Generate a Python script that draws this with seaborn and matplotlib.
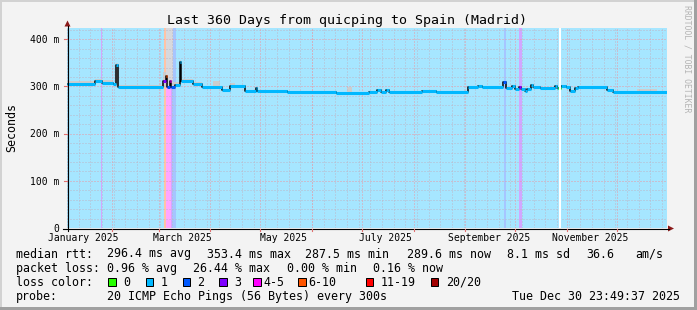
import matplotlib
matplotlib.use("Agg")
import numpy as np
import pandas as pd
import seaborn as sns
import matplotlib.pyplot as plt
import matplotlib.dates as mdates
import matplotlib.transforms as mtrans
from matplotlib.patches import Polygon, Rectangle
from matplotlib.lines import Line2D
from matplotlib.colors import to_rgb

plt.rcParams["font.family"] = ["DejaVu Sans Mono"]

# ---------------- data ----------------
W, H = 697, 310
END = pd.Timestamp("2025-12-30 23:49:37")
SPAN_DAYS = 360
START = END - pd.Timedelta(days=SPAN_DAYS)
Y_TOP = 424  # ms

title = "Last 360 Days from quicping to Spain (Madrid)"

# median rtt (ms) as step segments: start day (from START), value, loss class
seg_day = [0, 17, 21, 27.6, 29.4, 30.6, 57.6, 59.4, 60, 61.8,
           62.4, 64.8, 67.8, 68.4, 75.6, 81, 93, 97.8, 106.8, 113.4,
           114, 132, 161.4, 181.2, 186, 188.4, 191.4, 193.2, 213, 221.4,
           240.6, 246.6, 249, 261.6, 263.4, 267, 268.8, 271.2, 272.4, 274.8,
           276, 278.4, 279.6, 283.8, 292.8, 294, 294.6, 296.4, 299.4, 301.8,
           304.8, 306.6, 324, 327.6]
seg_ms = [305.5, 311, 307, 305, 345, 299, 311, 323, 299, 311,
          299, 303, 352, 312, 306, 299, 292, 301, 290, 296,
          291, 288, 286, 289, 292, 289, 292, 289, 291, 289,
          299, 301, 299, 309, 297, 302, 295, 299, 294, 290,
          295, 304, 299, 297, 301, 297, 297, 300, 299, 290,
          296, 299, 292, 288]
seg_loss = [1, 1, 1, 1, 1, 1, 3, 5, 2, 4,
            2, 1, 1, 1, 1, 1, 1, 1, 1, 1,
            1, 1, 1, 1, 1, 1, 1, 1, 1, 1,
            1, 1, 1, 2, 1, 1, 1, 3, 1, 1,
            1, 1, 1, 1, 1, 1, 0, 1, 1, 1,
            1, 1, 1, 1]

# loss background bands (days) and their loss class
band_start = [20.4, 58.2, 59.4, 62.4, 63.0, 262.2, 271.2]
band_end = [21.0, 59.4, 62.4, 63.0, 65.4, 263.4, 272.7]
band_loss = [3, 5, 4, 3, 2, 2, 3]
gap_start, gap_end = 295.2, 296.4   # no data

# smoke (ping spread) patches
smoke_start = [0, 17, 21, 29.4, 30.6, 57.6, 59.4, 63.6, 67.8, 68.4, 75.6, 81, 87.6, 97.8, 168, 342]
smoke_end = [17, 21, 27.6, 30.6, 57.6, 59.4, 63.6, 67.8, 68.4, 75.6, 81, 93, 91.8, 101, 171, 354]
smoke_lo = [304, 307, 304, 300, 298, 299, 299, 298, 305, 309, 304, 297, 298, 298, 285, 287]
smoke_hi = [311, 316, 313, 350, 304, 330, 424, 309, 356, 316, 310, 302, 311, 307, 299, 294]

loss_labels = ["0", "1", "2", "3", "4-5", "6-10", "11-19", "20/20"]
loss_colors = ["#26ff00", "#00b8ff", "#0059ff", "#7e00ff", "#ff00ff", "#ff5500", "#ff0000", "#a10000"]

ytick_ms = [0, 100, 200, 300, 400]
ytick_labels = ["0", "100 m", "200 m", "300 m", "400 m"]
xtick_dates = ["2025-01-15", "2025-03-15", "2025-05-15", "2025-07-15", "2025-09-15", "2025-11-15"]
xtick_labels = ["January 2025", "March 2025", "May 2025", "July 2025", "September 2025", "November 2025"]

stats_rtt = [("median rtt:", 16), ("296.4 ms avg", 107.3), ("353.4 ms max", 207.3),
             ("287.5 ms min", 305), ("289.6 ms now", 407.3), ("8.1 ms sd", 507.3),
             ("36.6", 586), ("am/s", 635.7)]
stats_loss = [("packet loss:", 16), ("0.96 % avg", 107.3), ("26.44 % max", 192.7),
              ("0.00 % min", 286.7), ("0.16 % now", 372.7)]
swatch_x = [108.3, 145.7, 182.7, 219.3, 253.3, 298.3, 365.7, 430.7]
swatch_text_x = [123.3, 160.5, 197.3, 234.3, 263.3, 308.3, 380.7, 445.7]
probe_text = "20 ICMP Echo Pings (56 Bytes) every 300s"
date_text = "Tue Dec 30 23:49:37 2025"

# ---------------- helpers ----------------
def fx(x):
    return x / W

def fy(y):
    return 1 - y / H

def light(c, a=0.35):
    return tuple(1 - a * (1 - v) for v in to_rgb(c))

# ---------------- figure ----------------
fig = plt.figure(figsize=(W / 100, H / 100), dpi=100, facecolor="#F3F3F3")
ax = fig.add_axes([fx(67), fy(228), 600 / W, 200 / H])
ax.set_facecolor("white")
for s in ax.spines.values():
    s.set_visible(False)

x0 = mdates.date2num(START.to_pydatetime())
days = np.asarray(seg_day, dtype=float)
ends = np.append(days[1:], SPAN_DAYS)

# loss background
ax.axvspan(x0, x0 + SPAN_DAYS, color=light(loss_colors[1]), lw=0, zorder=0.5)
for s, e, k in zip(band_start, band_end, band_loss):
    ax.axvspan(x0 + s, x0 + e, color=light(loss_colors[k]), lw=0, zorder=0.6)

# smoke
for s, e, lo, hi in zip(smoke_start, smoke_end, smoke_lo, smoke_hi):
    col = "#d8d8dc" if hi > 400 else "#cdcdcd"
    ax.fill_between([x0 + s, x0 + e], lo, hi, color=col, lw=0, zorder=1)

# grid
sundays = pd.date_range(START.normalize(), END, freq="W-SUN")
months = pd.date_range(START.normalize(), END, freq="MS")
sun_x = [mdates.date2num(d.to_pydatetime()) for d in sundays]
mon_x = [mdates.date2num(d.to_pydatetime()) for d in months]
dash = (0, (1, 2))
minor_col = "#bcb8c8"
major_col = "#eb98a2"
ax.vlines(sun_x, 0, Y_TOP, colors=minor_col, lw=0.72, linestyles=dash, zorder=2)
minor_y = [v for v in range(20, Y_TOP, 20) if v % 100]
ax.hlines(minor_y, x0, x0 + SPAN_DAYS, colors=minor_col, lw=0.72, linestyles=dash, zorder=2)
ax.vlines(mon_x, 0, Y_TOP, colors=major_col, lw=0.72, linestyles=dash, zorder=2.1)
ax.hlines([100, 200, 300, 400], x0, x0 + SPAN_DAYS, colors=major_col, lw=0.72,
          linestyles=dash, zorder=2.1)

# median line
df = pd.DataFrame({"t": np.append(x0 + days, x0 + SPAN_DAYS),
                   "ms": np.append(seg_ms, seg_ms[-1])})
sns.lineplot(data=df, x="t", y="ms", drawstyle="steps-post", color="black", lw=1.1,
             ax=ax, estimator=None, sort=False, legend=False, zorder=3)
ax.hlines(seg_ms, x0 + days, x0 + ends, colors=[loss_colors[k] for k in seg_loss],
          lw=2.2, zorder=4)

# no-data gap
ax.axvspan(x0 + gap_start, x0 + gap_end, color="white", lw=0, zorder=5)

ax.set_xlim(x0, x0 + SPAN_DAYS)
ax.set_ylim(0, Y_TOP)
ax.set_xticks([])
ax.set_yticks([])
ax.set_xlabel("")
ax.set_ylabel("")

# axes lines + arrows
ft = fig.transFigure
fig.add_artist(Line2D([fx(63), fx(669)], [fy(228.5), fy(228.5)], transform=ft, color="black", lw=0.8))
fig.add_artist(Line2D([fx(67.5), fx(67.5)], [fy(231), fy(26)], transform=ft, color="black", lw=0.8))
fig.add_artist(Polygon([(fx(64.5), fy(26.5)), (fx(70.5), fy(26.5)), (fx(67.5), fy(20.5))],
                       closed=True, transform=ft, color="#8b1a1a", lw=0))
fig.add_artist(Polygon([(fx(668), fy(225.5)), (fx(668), fy(231.5)), (fx(674), fy(228.5))],
                       closed=True, transform=ft, color="#8b1a1a", lw=0))

tx = mtrans.blended_transform_factory(ax.transData, ft)
ty = mtrans.blended_transform_factory(ft, ax.transData)
for xm in mon_x:
    fig.add_artist(Line2D([xm, xm], [fy(228.5), fy(231)], transform=tx, color="#e07070", lw=0.8))
for v in [100, 200, 300, 400]:
    fig.add_artist(Line2D([fx(64), fx(67)], [v, v], transform=ty, color="#e07070", lw=0.8))

# tick labels
for d, lab in zip(xtick_dates, xtick_labels):
    ax.text(mdates.date2num(pd.Timestamp(d).to_pydatetime()), fy(240.7), lab,
            transform=tx, ha="center", va="baseline", fontsize=7.05)
tyo = mtrans.offset_copy(ty, fig=fig, x=0, y=-3.7, units="dots")
for v, lab in zip(ytick_ms, ytick_labels):
    fig.text(fx(59.5), v, lab, transform=tyo, ha="right", va="baseline", fontsize=7.05)

# title, labels
fig.text(fx(347), fy(24), title, ha="center", va="baseline", fontsize=9.5)
fig.text(fx(11.5), fy(127), "Seconds", rotation=90, ha="center", va="center", fontsize=8.35)
fig.text(fx(687.5), fy(59), "RRDTOOL / TOBI OETIKER", rotation=270, ha="center",
         va="center", fontsize=5.9, color="#b4b4b4")

# legend block
LS = 8.35
for s, x in stats_rtt:
    fig.text(fx(x), fy(257.5), s, ha="left", va="baseline", fontsize=LS)
for s, x in stats_loss:
    fig.text(fx(x), fy(271.6), s, ha="left", va="baseline", fontsize=LS)
fig.text(fx(16), fy(285.7), "loss color:", ha="left", va="baseline", fontsize=LS)
for x, tx_, c, lab in zip(swatch_x, swatch_text_x, loss_colors, loss_labels):
    fig.add_artist(Rectangle((fx(x), fy(285.5)), 7.5 / W, 7.5 / H, transform=ft,
                             facecolor=c, edgecolor="black", lw=0.72))
    fig.text(fx(tx_), fy(285.7), lab, ha="left", va="baseline", fontsize=LS)
fig.text(fx(16), fy(299.8), "probe:", ha="left", va="baseline", fontsize=LS)
fig.text(fx(107.3), fy(299.8), probe_text, ha="left", va="baseline", fontsize=LS)
fig.text(fx(680.5), fy(299.8), date_text, ha="right", va="baseline", fontsize=LS)

# 3D frame
fig.add_artist(Rectangle((0, fy(2)), 1, 2 / H, transform=ft, color="#D2D2D2", lw=0))
fig.add_artist(Rectangle((0, 0), 2 / W, 1, transform=ft, color="#D2D2D2", lw=0))
fig.add_artist(Rectangle((0, 0), 1, 3 / H, transform=ft, color="#A0A0A0", lw=0))
fig.add_artist(Rectangle((fx(694), 0), 3 / W, 1, transform=ft, color="#A0A0A0", lw=0))

fig.savefig("out.png", dpi=100, facecolor=fig.get_facecolor())
